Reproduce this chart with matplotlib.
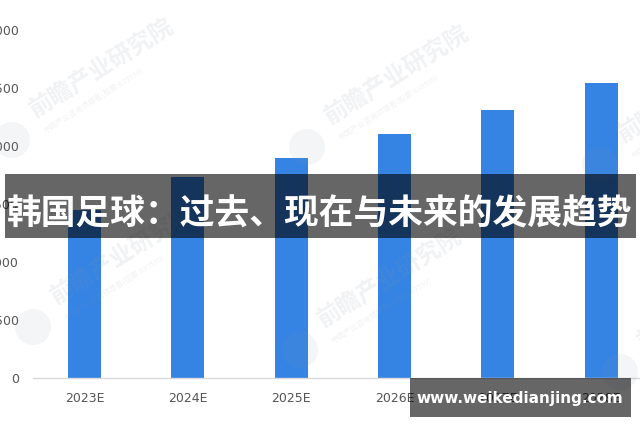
import matplotlib
matplotlib.use("Agg")
import matplotlib.pyplot as plt
from matplotlib.patches import Rectangle, Circle

# data
years = ["2023E", "2024E", "2025E", "2026E", "2027E", "2028E"]
values = [1450, 1730, 1900, 2100, 2310, 2540]
yticks = [0, 500, 1000, 1500, 2000, 2500, 3000]
title = "韩国足球：过去、现在与未来的发展趋势"
site = "www.weikedianjing.com"
wm_big = "前瞻产业研究院"
wm_small = "中国产业咨询领导者(股票:839599)"

W, H = 640, 426
bar_c = "#3584e4"
txt_c = "#555555"

plt.rcParams["font.family"] = ["Noto Sans CJK SC", "DejaVu Sans"]

fig = plt.figure(figsize=(W / 100, H / 100), dpi=100)
fig.patch.set_facecolor("white")


def fx(px):
    return px / W


def fy(py):
    return (H - py) / H


ax = fig.add_axes([fx(32.8), fy(378), fx(652.7) - fx(32.8), fy(30) - fy(378)])
x = list(range(len(years)))
ax.bar(x, values, width=0.32, color=bar_c, zorder=2)
ax.set_xlim(-0.5, 5.5)
ax.set_ylim(0, 3000)
ax.set_xticks(x)
ax.set_xticklabels(years, fontsize=9, color=txt_c, family="DejaVu Sans")
ax.set_yticks(yticks)
ax.set_yticklabels([str(v) for v in yticks], fontsize=9, color=txt_c, family="DejaVu Sans")
ax.tick_params(axis="both", length=0)
ax.tick_params(axis="x", pad=10)
ax.tick_params(axis="y", pad=10)
for s in ["top", "right", "left"]:
    ax.spines[s].set_visible(False)
ax.spines["bottom"].set_color("#d9d9d9")
ax.spines["bottom"].set_linewidth(1)

# faint watermarks (logo + text), positions in pixels
for lx, ly in [(12, 140), (307, 147), (600, 165), (33, 327), (300, 350), (620, 372)]:
    fig.patches.append(Circle((lx / 100, (H - ly) / 100), 0.18,
                              transform=fig.dpi_scale_trans,
                              facecolor="#8a93a8", edgecolor="none", alpha=0.09, zorder=5))
    fig.text(fx(lx + 24), fy(ly - 22), wm_big, rotation=32, rotation_mode="anchor",
             ha="left", va="baseline", fontsize=17, fontweight="bold",
             color="#8a93a8", alpha=0.12, zorder=5)
    fig.text(fx(lx + 34), fy(ly - 6), wm_small, rotation=32, rotation_mode="anchor",
             ha="left", va="baseline", fontsize=5.5,
             color="#8a93a8", alpha=0.12, zorder=5)

# title banner
fig.patches.append(Rectangle((fx(5), fy(238)), fx(636) - fx(5), fy(174) - fy(238),
                             transform=fig.transFigure, facecolor="black",
                             edgecolor="none", alpha=0.6, zorder=10))
fig.text(fx(320), fy(214), title, ha="center", va="center", fontsize=25,
         fontweight="bold", color="white", zorder=11)

# site box
fig.patches.append(Rectangle((fx(410), fy(417)), fx(631) - fx(410), fy(378) - fy(417),
                             transform=fig.transFigure, facecolor="black",
                             edgecolor="none", alpha=0.6, zorder=10))
fig.text(fx(520), fy(399), site, ha="center", va="center", fontsize=11,
         fontweight="bold", color="white", family="DejaVu Sans", zorder=11)

fig.savefig("out.png", dpi=100)
